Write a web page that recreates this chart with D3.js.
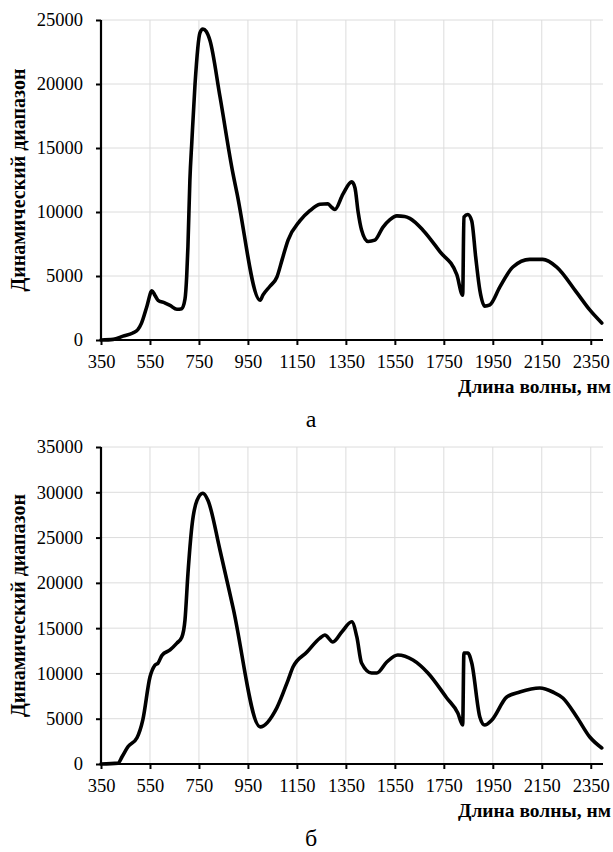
<!DOCTYPE html>
<html>
<head>
<meta charset="utf-8">
<script src="https://cdn.jsdelivr.net/npm/d3@7"></script>
<style>
  body { margin: 0; background: #fff; }
  svg { display: block; }
  text { font-family: "Liberation Serif", "Times New Roman", "DejaVu Serif", "Noto Serif", serif; }
  .tick text { font-size: 18.5px; fill: #000; }
</style>
</head>
<body>
<svg id="chart" width="613" height="852"></svg>
<script>
// x ticks shared by both panels
const xTicks = [350, 550, 750, 950, 1150, 1350, 1550, 1750, 1950, 2150, 2350];
const yTicksA = [0, 5000, 10000, 15000, 20000, 25000];
const yTicksB = [0, 5000, 10000, 15000, 20000, 25000, 30000, 35000];

// panel "а" — wavelength (nm) and dynamic range
const nmA = [350, 400, 440, 480, 500, 515, 537, 558, 570, 583, 610, 632, 660, 680, 693, 700, 705, 713, 721, 734, 754, 766, 780, 795, 836, 889, 905, 1000, 1011, 1040, 1068, 1090, 1114, 1162, 1203, 1244, 1277, 1290, 1305, 1338, 1374, 1387, 1400, 1414, 1441, 1468, 1501, 1530, 1558, 1590, 1611, 1664, 1734, 1803, 1827, 1832, 1848, 1864, 1880, 1897, 1917, 1938, 1979, 2032, 2101, 2154, 2211, 2293, 2346, 2395];
const valA = [0, 50, 300, 550, 800, 1300, 2600, 3850, 3500, 3100, 2900, 2700, 2400, 2450, 3200, 5000, 7300, 12500, 15500, 20000, 24000, 24300, 24100, 23400, 19000, 13000, 11500, 3100, 3500, 4200, 4900, 6300, 7800, 9300, 10100, 10600, 10650, 10400, 10200, 11400, 12350, 11900, 10000, 8600, 7700, 7800, 8800, 9400, 9700, 9650, 9500, 8600, 6900, 5100, 3500, 9600, 9800, 9300, 6500, 3900, 2650, 2750, 4150, 5700, 6300, 6300, 5700, 3700, 2350, 1330];

// panel "б"
const nmB = [350, 420, 436, 460, 497, 521, 550, 570, 583, 599, 632, 660, 680, 693, 705, 721, 742, 766, 787, 836, 889, 1000, 1068, 1114, 1134, 1191, 1244, 1264, 1297, 1334, 1374, 1395, 1414, 1455, 1476, 1517, 1562, 1624, 1685, 1762, 1807, 1827, 1832, 1848, 1864, 1897, 1917, 1946, 2007, 2060, 2142, 2195, 2236, 2293, 2346, 2395];
const valB = [0, 100, 800, 1900, 2900, 4900, 9600, 10900, 11150, 12000, 12600, 13350, 14000, 15900, 21000, 26200, 29100, 29900, 29100, 23600, 17300, 4100, 6200, 9270, 10700, 12360, 13900, 14240, 13470, 14600, 15700, 14000, 11150, 10050, 10050, 11260, 12030, 11480, 10050, 7290, 5630, 4300, 12250, 12250, 11150, 5200, 4300, 4860, 7400, 7950, 8390, 7950, 7290, 5200, 2980, 1770];

const svg = d3.select('#chart');
const x = d3.scaleLinear().domain([350, 2400]).range([101, 603]);

function drawPanel(nm, vals, yMax, yTicks, top, bottom, letter, letterY) {
  const y = d3.scaleLinear().domain([0, yMax]).range([bottom, top]);
  const g = svg.append('g');

  // grid
  g.selectAll('.vgrid').data(xTicks.slice(1)).enter().append('line')
    .attr('x1', d => x(d)).attr('x2', d => x(d))
    .attr('y1', top).attr('y2', bottom)
    .attr('stroke', '#dcdcdc').attr('stroke-width', 1);
  g.selectAll('.hgrid').data(yTicks.slice(1)).enter().append('line')
    .attr('x1', x(350)).attr('x2', x(2400))
    .attr('y1', d => y(d)).attr('y2', d => y(d))
    .attr('stroke', '#dcdcdc').attr('stroke-width', 1);

  // axes
  const yAxis = g.append('g').attr('transform', `translate(${x(350)},0)`)
    .call(d3.axisLeft(y).tickValues(yTicks).tickSize(5).tickPadding(13).tickFormat(d3.format('d')));
  const xAxis = g.append('g').attr('transform', `translate(0,${bottom})`)
    .call(d3.axisBottom(x).tickValues(xTicks).tickSize(5).tickPadding(9.5).tickFormat(d3.format('d')));
  [yAxis, xAxis].forEach(a => {
    a.attr('font-family', null).attr('font-size', null);
    a.select('.domain').attr('stroke', '#000').attr('stroke-width', 2.2);
    a.selectAll('.tick line').attr('stroke', '#000').attr('stroke-width', 2);
  });
  xAxis.select('.domain').attr('d', `M${x(350)},0H${x(2400)}`);
  yAxis.select('.domain').attr('d', `M0,${y(yMax)}V${bottom}`);

  // curve
  const pts = nm.map((d, i) => [d, vals[i]]);
  g.append('path').datum(pts)
    .attr('fill', 'none').attr('stroke', '#000').attr('stroke-width', 3.6)
    .attr('stroke-linejoin', 'round').attr('stroke-linecap', 'round')
    .attr('d', d3.line().x(d => x(d[0])).y(d => y(d[1])).curve(d3.curveMonotoneX));

  // axis titles
  g.append('text')
    .attr('transform', `translate(25,${(top + bottom) / 2}) rotate(-90)`)
    .attr('text-anchor', 'middle')
    .style('font-weight', 'bold').style('font-size', '20px')
    .text('Динамический диапазон');
  g.append('text')
    .attr('x', 611).attr('y', bottom + 53)
    .attr('text-anchor', 'end')
    .style('font-weight', 'bold').style('font-size', '19.5px')
    .text('Длина волны, нм');

  svg.append('text')
    .attr('x', 311).attr('y', letterY)
    .attr('text-anchor', 'middle')
    .style('font-size', '24px')
    .text(letter);
}

drawPanel(nmA, valA, 25000, yTicksA, 20, 340, 'а', 427);
drawPanel(nmB, valB, 35000, yTicksB, 447, 764, 'б', 846);
</script>
</body>
</html>
